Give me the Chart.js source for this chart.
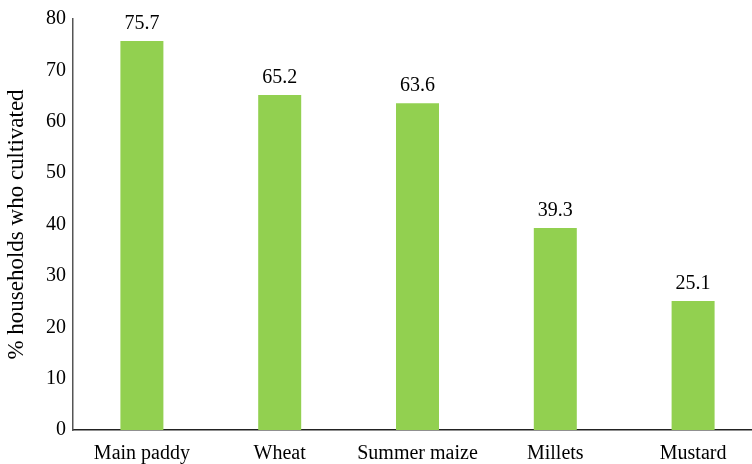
<!DOCTYPE html>
<html><head><meta charset="utf-8">
<script src="https://cdn.jsdelivr.net/npm/chart.js@4"></script>
<style>html,body{margin:0;padding:0;overflow:hidden;background:#fff}canvas{display:block}</style>
</head><body>
<canvas id="c" width="770" height="464" style="width:770px;height:464px"></canvas>
<script>
const categories = ["Main paddy", "Wheat", "Summer maize", "Millets", "Mustard"];
const values = [75.7, 65.2, 63.6, 39.3, 25.1];
const yTicks = [0, 10, 20, 30, 40, 50, 60, 70, 80];
const yTitle = "% households who cultivated";

const FONT = "'Liberation Serif', 'Times New Roman', serif";

const labelPlugin = {
  id: 'valueLabels',
  afterDatasetsDraw(chart) {
    const ctx = chart.ctx;
    const meta = chart.getDatasetMeta(0);
    ctx.save();
    ctx.font = "20px " + FONT;
    ctx.fillStyle = "#000";
    ctx.textAlign = "center";
    ctx.textBaseline = "alphabetic";
    meta.data.forEach((bar, i) => {
      ctx.fillText(values[i].toFixed(1), bar.x, bar.y - 12);
    });
    ctx.restore();
  }
};

new Chart(document.getElementById('c'), {
  type: 'bar',
  data: {
    labels: categories,
    datasets: [{
      data: values,
      backgroundColor: '#92D050',
      borderWidth: 0,
      categoryPercentage: 1,
      barPercentage: 0.312
    }]
  },
  options: {
    responsive: false,
    animation: false,
    layout: { padding: { left: 0, right: 8, top: 18, bottom: 0 } },
    plugins: { legend: { display: false }, tooltip: { enabled: false } },
    scales: {
      x: {
        grid: { display: false, drawTicks: false },
        border: { display: true, color: '#222', width: 1.5 },
        ticks: { color: '#000', font: { family: FONT, size: 20 }, padding: 12, maxRotation: 0 },
        afterFit(scale) { scale.height = 34; }
      },
      y: {
        min: 0, max: 80,
        afterBuildTicks(scale) { scale.ticks = yTicks.map(v => ({ value: v })); },
        grid: { display: false, drawTicks: false },
        border: { display: true, color: '#555', width: 1.5 },
        ticks: { color: '#000', font: { family: FONT, size: 20 }, padding: 7 },
        title: { display: true, text: yTitle, color: '#000', font: { family: FONT, size: 23 }, padding: { top: 3, bottom: 0 } },
        afterFit(scale) { scale.width = 73; }
      }
    }
  },
  plugins: [labelPlugin]
});
</script>
</body></html>
